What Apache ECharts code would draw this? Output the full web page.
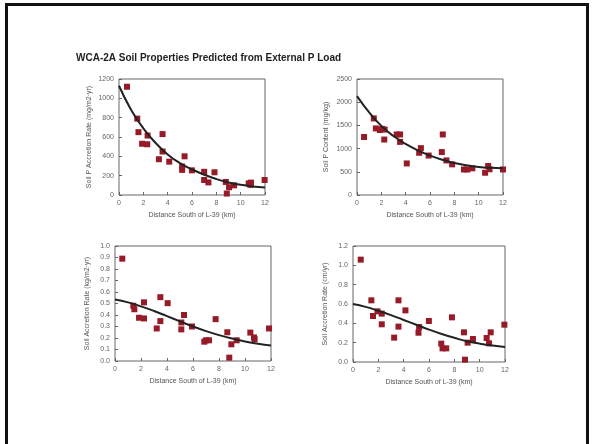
<!DOCTYPE html>
<html>
<head>
<meta charset="utf-8">
<script src="https://cdn.jsdelivr.net/npm/echarts@6/dist/echarts.min.js"></script>
<style>
  html, body { margin: 0; padding: 0; background: #fff; }
  #chart { width: 592px; height: 444px; }
  #frame {
    position: absolute; left: 5px; top: 3px; width: 578px; height: 460px;
    border-left: 3px solid #111; border-top: 3px solid #111; border-right: 3px solid #111;
    pointer-events: none;
  }
</style>
</head>
<body>
<div id="chart"></div>
<div id="frame"></div>
<script>
  // distance south of L-39 (km) and measured values, one pair of arrays per panel
  var accX = [0.66, 1.5, 1.6, 1.9, 2.32, 2.35, 3.28, 3.58, 3.58, 4.13, 5.19, 5.19, 5.39, 5.99, 7.0, 7.0, 7.35, 7.85, 8.78, 8.86, 9.05, 9.46, 10.66, 10.8, 10.85, 11.97];
  var accY = [1120, 790, 650, 530, 525, 615, 370, 630, 450, 345, 295, 260, 400, 255, 240, 155, 130, 235, 135, 15, 80, 100, 120, 105, 128, 155];

  var contX = [0.58, 1.38, 1.55, 1.88, 2.07, 2.27, 2.24, 3.26, 3.54, 3.54, 4.09, 5.11, 5.25, 5.89, 6.97, 7.05, 7.35, 7.82, 8.79, 9.07, 9.48, 10.53, 10.78, 10.89, 12.0];
  var contY = [1250, 1650, 1435, 1400, 1425, 1410, 1195, 1305, 1305, 1145, 680, 910, 1010, 850, 925, 1305, 745, 660, 550, 550, 575, 480, 625, 555, 550];

  var soilKgX = [0.56, 1.41, 1.49, 1.85, 2.23, 2.23, 3.21, 3.49, 3.49, 4.05, 5.1, 5.1, 5.31, 5.92, 6.87, 7.0, 7.23, 7.74, 8.64, 8.79, 8.95, 9.36, 10.41, 10.69, 10.74, 11.85];
  var soilKgY = [0.89, 0.48, 0.45, 0.376, 0.37, 0.51, 0.283, 0.555, 0.347, 0.503, 0.335, 0.275, 0.40, 0.30, 0.168, 0.18, 0.18, 0.364, 0.25, 0.029, 0.145, 0.18, 0.247, 0.205, 0.19, 0.283];

  var soilCmX = [0.61, 1.45, 1.58, 1.93, 2.27, 2.27, 3.25, 3.59, 3.59, 4.14, 5.17, 5.22, 5.99, 6.97, 7.07, 7.36, 7.81, 8.76, 8.84, 9.05, 9.47, 10.55, 10.74, 10.87, 11.95];
  var soilCmY = [1.059, 0.638, 0.476, 0.524, 0.50, 0.39, 0.252, 0.638, 0.366, 0.534, 0.303, 0.362, 0.424, 0.19, 0.141, 0.141, 0.462, 0.307, 0.024, 0.20, 0.238, 0.248, 0.193, 0.307, 0.386];

  // fitted curves at whole km
  var fitX = [0, 1, 2, 3, 4, 5, 6, 7, 8, 9, 10, 11, 12];
  var accFit = [1130, 880, 690, 540, 420, 330, 265, 210, 165, 130, 105, 88, 78];
  var contFit = [2130, 1780, 1490, 1270, 1100, 960, 850, 760, 690, 640, 605, 585, 575];
  var soilKgFit = [0.535, 0.51, 0.475, 0.435, 0.39, 0.345, 0.30, 0.26, 0.225, 0.195, 0.17, 0.15, 0.135];
  var soilCmFit = [0.60, 0.57, 0.53, 0.485, 0.435, 0.385, 0.335, 0.29, 0.25, 0.215, 0.19, 0.17, 0.155];

  var xName = 'Distance South of L-39 (km)';
  var font = 'Liberation Sans, Arial, sans-serif';

  function pairs(xs, ys) {
    return xs.map(function (x, i) { return [x, ys[i]]; });
  }

  var panels = [
    { grid: { left: 119, top: 79, width: 146, height: 116 }, yName: 'Soil P Accretion Rate (mg/m2·yr)', max: 1200, step: 200, dec: 0, pts: pairs(accX, accY), fit: pairs(fitX, accFit), gap: 26 },
    { grid: { left: 357, top: 79, width: 146, height: 116 }, yName: 'Soil P Content (mg/kg)', max: 2500, step: 500, dec: 0, pts: pairs(contX, contY), fit: pairs(fitX, contFit), gap: 27 },
    { grid: { left: 115, top: 246, width: 156, height: 115 }, yName: 'Soil Accretion Rate (kg/m2·yr)', max: 1.0, step: 0.1, dec: 1, pts: pairs(soilKgX, soilKgY), fit: pairs(fitX, soilKgFit), gap: 24 },
    { grid: { left: 353, top: 246, width: 152, height: 116 }, yName: 'Soil Accretion Rate (cm/yr)', max: 1.2, step: 0.2, dec: 1, pts: pairs(soilCmX, soilCmY), fit: pairs(fitX, soilCmFit), gap: 24 }
  ];

  var option = {
    backgroundColor: '#fff',
    animation: false,
    title: {
      text: 'WCA-2A Soil Properties Predicted from External P Load',
      left: 71, top: 48,
      textStyle: { fontFamily: font, fontSize: 10, fontWeight: 'bold', color: '#222' }
    },
    grid: [], xAxis: [], yAxis: [], series: []
  };

  panels.forEach(function (p, i) {
    option.grid.push(Object.assign({ show: true, borderColor: '#666', borderWidth: 1 }, p.grid));
    option.xAxis.push({
      gridIndex: i, type: 'value', min: 0, max: 12, interval: 2,
      name: xName, nameLocation: 'middle', nameGap: 17,
      nameTextStyle: { fontFamily: font, fontSize: 7, color: '#555' },
      axisLine: { show: false },
      axisTick: { show: true, inside: true, length: 3, lineStyle: { color: '#666' } },
      axisLabel: { fontFamily: font, fontSize: 7, color: '#666', margin: 5 },
      splitLine: { show: false }
    });
    option.yAxis.push({
      gridIndex: i, type: 'value', min: 0, max: p.max, interval: p.step,
      name: p.yName, nameLocation: 'middle', nameGap: p.gap,
      nameTextStyle: { fontFamily: font, fontSize: 7, color: '#555' },
      axisLine: { show: false },
      axisTick: { show: true, inside: true, length: 3, lineStyle: { color: '#666' } },
      axisLabel: {
        fontFamily: font, fontSize: 7, color: '#666', margin: 5,
        formatter: function (v) { return v.toFixed(p.dec); }
      },
      splitLine: { show: false }
    });
    option.series.push({
      type: 'scatter', xAxisIndex: i, yAxisIndex: i, data: p.pts,
      symbol: 'rect', symbolSize: 6,
      itemStyle: { color: '#971a28', opacity: 1 }
    });
    option.series.push({
      type: 'line', xAxisIndex: i, yAxisIndex: i, data: p.fit,
      smooth: true, showSymbol: false, symbol: 'none',
      lineStyle: { color: '#222', width: 2 }, z: 3
    });
  });

  var chart = echarts.init(document.getElementById('chart'));
  chart.setOption(option);
</script>
</body>
</html>
